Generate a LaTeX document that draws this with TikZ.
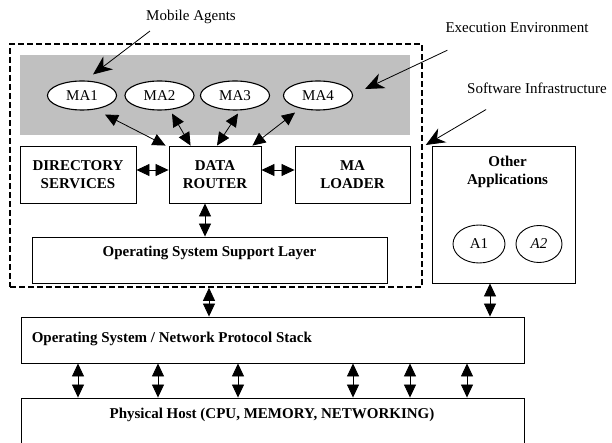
\documentclass[tikz,border=0pt]{standalone}
\usepackage{fontspec}
\setmainfont{Liberation Serif}
\usetikzlibrary{arrows.meta, positioning, shapes.geometric}
\definecolor{envGray}{HTML}{C0C0C0}

\tikzset{
  txt/.style={font=\fontsize{15}{18}\selectfont, inner sep=0pt},
  boldtxt/.style={font=\bfseries\fontsize{15}{18}\selectfont, inner sep=0pt, align=center},
  box/.style={draw, line width=0.9pt, inner sep=0pt, boldtxt},
  agent/.style={draw, ellipse, fill=white, line width=1.1pt, inner sep=0pt,
    minimum width=69pt, minimum height=29pt, txt},
  app/.style={draw, ellipse, line width=0.9pt, inner sep=0pt, txt},
  link/.style={{Triangle[length=13pt,width=12pt]}-{Triangle[length=13pt,width=12pt]}, line width=0.8pt},
  note/.style={-{Stealth[length=19pt,width=16pt,inset=6pt]}, line width=0.8pt}
}

\begin{document}
\begin{tikzpicture}[x=1pt, y=-1pt]
  \useasboundingbox (0,0) rectangle (612,443);
  \clip (0,0) rectangle (612,443);

  % software infrastructure and execution environment
  \node[draw, line width=1.6pt, dash pattern=on 6pt off 3pt, inner sep=0pt,
    minimum width=412pt, minimum height=243pt] (infra) at (216,165.5) {};
  \node[fill=envGray, inner sep=0pt, minimum width=390pt, minimum height=80pt] (env) at (215,95) {};

  % mobile agents
  \node[agent] (ma1) at (82,95.5) {MA1};
  \node[agent] (ma2) at (159.5,95.5) {MA2};
  \node[agent] (ma3) at (235,95.5) {MA3};
  \node[agent] (ma4) at (318,95.5) {MA4};

  % services
  \node[box, minimum width=116pt, minimum height=57pt] (dir) at (78,174.5) {DIRECTORY\\SERVICES};
  \node[box, minimum width=92pt, minimum height=57pt] (dr) at (215,174.5) {DATA\\ROUTER};
  \node[box, minimum width=115pt, minimum height=57pt] (mal) at (352.5,174.5) {MA\\LOADER};
  \node[box, minimum width=355pt, minimum height=46pt] (oss) at (209.5,260) {};
  \node[boldtxt] (osstxt) at ([shift={(0,-7)}]oss.center) {Operating System Support Layer};

  % other applications
  \node[box, minimum width=143pt, minimum height=137pt] (oth) at (503.5,214.5) {};
  \node[boldtxt] (othtxt) at ([shift={(4,26)}]oth.north) {Other\\Applications};
  \node[app, minimum width=52pt, minimum height=38pt] (a1) at (479,244) {A1};
  \node[app, minimum width=46pt, minimum height=37pt] (a2) at (539,244) {\textit{A2}};

  % lower layers
  \node[box, minimum width=503pt, minimum height=46pt] (stack) at (272.5,340) {};
  \node[boldtxt, anchor=west] (stacktxt) at ([shift={(11,-1)}]stack.west) {Operating System / Network Protocol Stack};
  \node[box, minimum width=503pt, minimum height=62pt] (phys) at (272.5,429) {};
  \node[boldtxt] (phystxt) at (272,415) {Physical Host (CPU, MEMORY, NETWORKING)};

  % labels
  \node[txt] (lblma) at (191,17) {Mobile Agents};
  \node[txt] (lblee) at (517,28) {Execution Environment};
  \node[txt] (lblsi) at (537,88) {Software Infrastructure};

  \draw[note] ([shift={(-41,7)}]lblma.south) -- ([shift={(11,-6)}]ma1.north);
  \draw[note] ([shift={(2,17)}]lblee.south west) -- ([shift={(12,-6.5)}]ma4.east);
  \draw[note] ([shift={(19,16)}]lblsi.south west) -- ([shift={(3,-20.5)}]infra.east);

  % agents to router
  \draw[link] ([shift={(23,4)}]ma1.south) -- ([shift={(-3,0)}]dr.north west);
  \draw[link] ([shift={(12.5,3)}]ma2.south) -- ([shift={(22,0)}]dr.north west);
  \draw[link] ([shift={(3,3)}]ma3.south) -- ([shift={(2,0)}]dr.north);
  \draw[link] ([shift={(-23,2)}]ma4.south) -- ([shift={(-9,0)}]dr.north east);

  \draw[link] ([shift={(0,-4.5)}]dir.east) -- ([shift={(0,-4.5)}]dr.west);
  \draw[link] ([shift={(0,-4.5)}]dr.east) -- ([shift={(0,-4.5)}]mal.west);
  \draw[link] ([shift={(-10,0)}]dr.south) -- ([shift={(-10,0)}]dr.south |- oss.north);

  \draw[link] ([shift={(-7,0)}]infra.south) -- ([shift={(-7,0)}]infra.south |- stack.north);
  \draw[link] ([shift={(-13.5,0)}]oth.south) -- ([shift={(-13.5,0)}]oth.south |- stack.north);

  \foreach \x in {78,158,238,353,410,467}
    \draw[link] (stack.south -| \x,0) -- (phys.north -| \x,0);
\end{tikzpicture}
\end{document}
